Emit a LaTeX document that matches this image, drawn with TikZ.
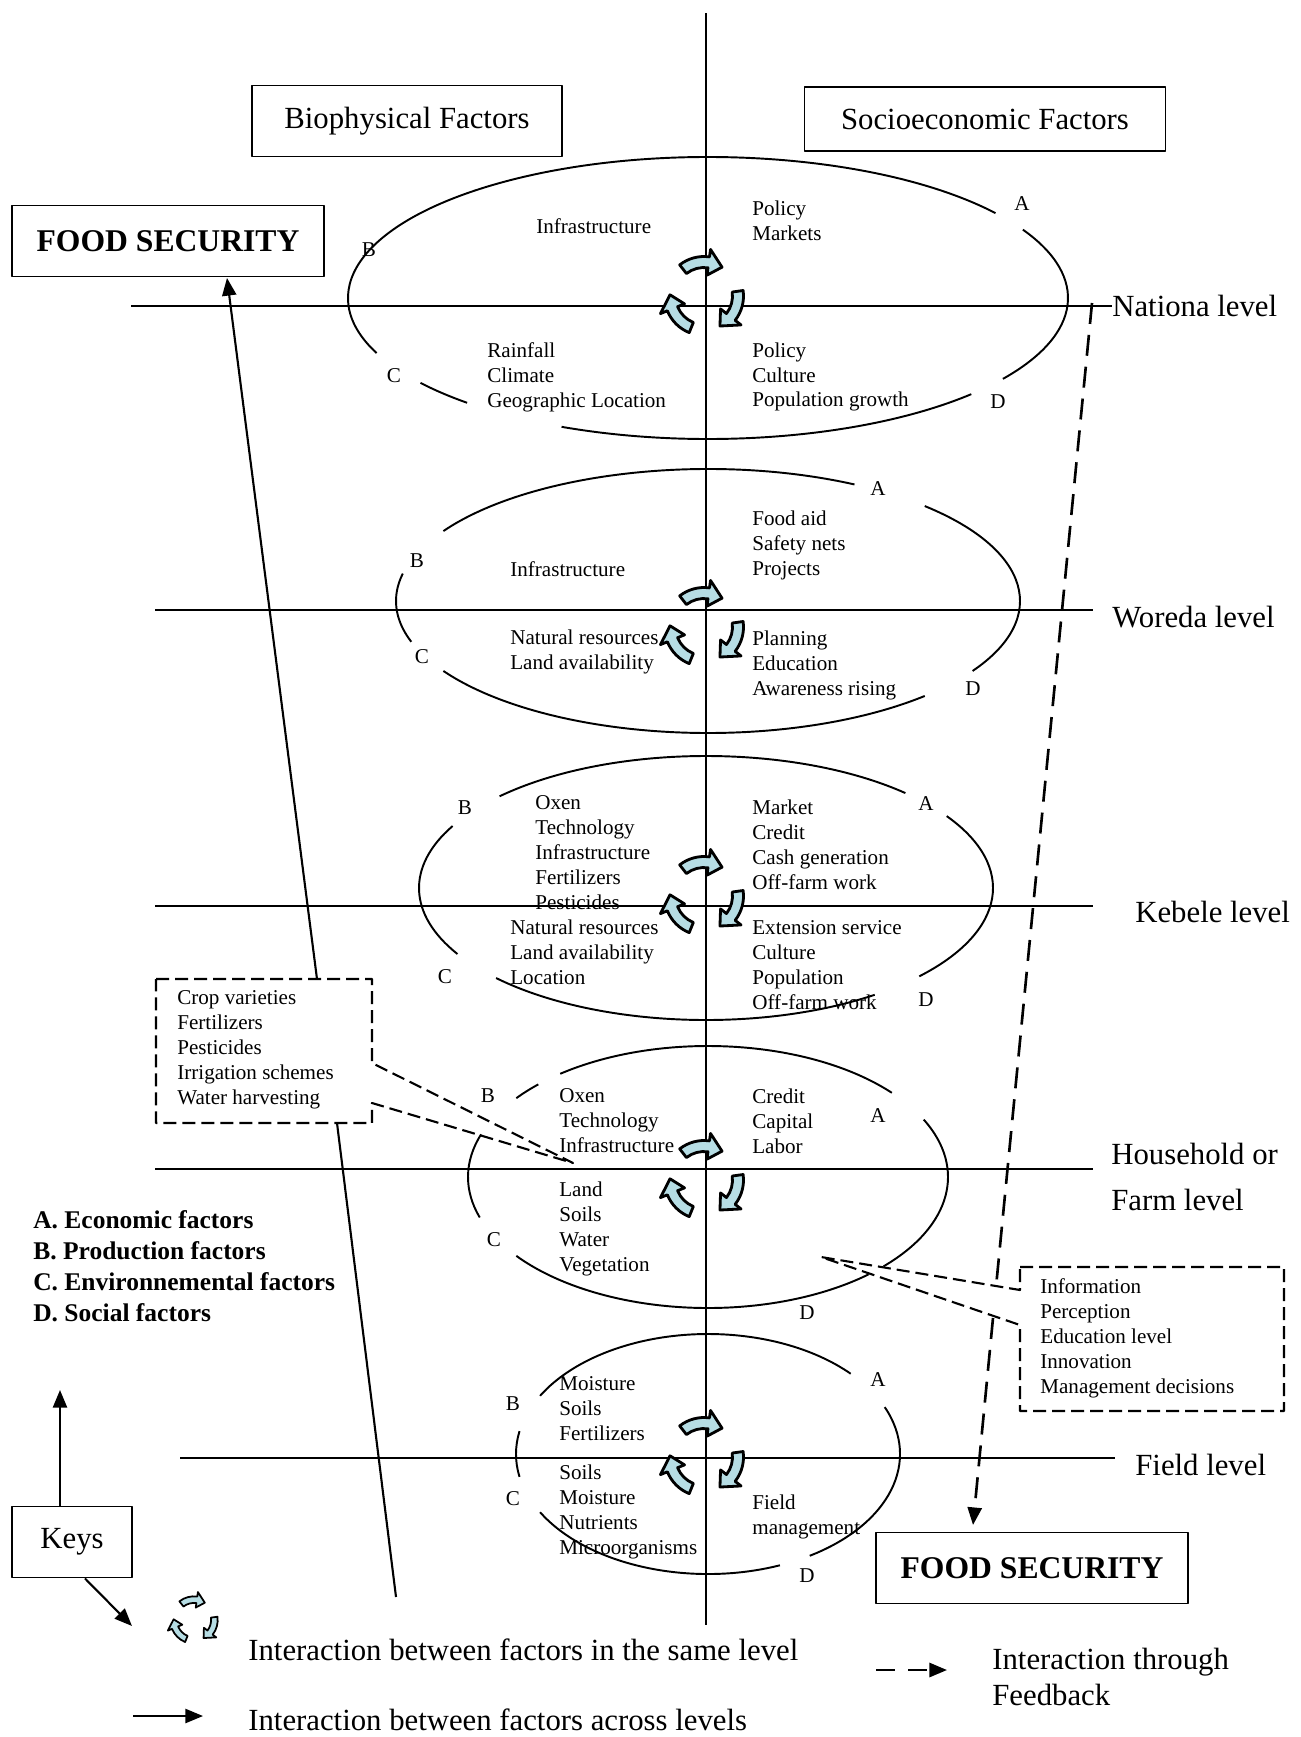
\documentclass[tikz,border=0pt]{standalone}
\usepackage{fontspec}
\setmainfont{Liberation Serif}
\usepackage{xcolor}
\definecolor{paleblue}{RGB}{182,221,228}
\usepackage{tikz}
\usetikzlibrary{arrows.meta,positioning}
\tikzset{
  >={Triangle[length=10pt,width=8pt]},
  ring/.style={line width=1.1pt},
  level/.style={line width=1.4pt},
  axis/.style={line width=1pt},
  frame/.style={draw,line width=1.1pt,inner sep=0pt,font=\fontsize{17.5}{21}\selectfont},
  callout/.style={line width=1.2pt,dash pattern=on 2.6mm off 1.2mm},
  feed/.style={line width=1.5pt,dash pattern=on 4.2mm off 2.2mm},
  link/.style={->,line width=1.2pt},
  item/.style={align=left,anchor=west,inner sep=0pt,font=\fontsize{12}{14.2}\selectfont},
  corner/.style={inner sep=0pt,font=\fontsize{12}{14}\selectfont},
  lvl/.style={anchor=west,inner sep=0pt,font=\fontsize{17.5}{21}\selectfont},
  cycarrow/.style={fill=paleblue,line width=1.6pt},
  cyc/.pic={
    \foreach \r in {0,120,240}
      \filldraw[cycarrow] ({\r-128}:39.5) arc[start angle=\r-128,end angle=\r-82,radius=39.5]
        -- ({\r-82}:47) -- ({\r-58}:34) -- ({\r-82}:21) -- ({\r-82}:28.5)
        arc[start angle=\r-82,end angle=\r-128,radius=28.5] -- cycle;
  }
}

\begin{document}
\begin{tikzpicture}[x=0.2mm,y=-0.2mm,line join=round]
  \useasboundingbox (0,0) rectangle (1300,1737);

  % Header boxes
  \node[frame,minimum width=62mm,minimum height=14.2mm] (bio) at (407,121) {Biophysical Factors};
  \node[frame,minimum width=72.2mm,minimum height=12.8mm] (soc) at (985,119) {Socioeconomic Factors};
  \node[frame,minimum width=62.4mm,minimum height=14.2mm,font=\fontsize{18}{21}\selectfont\bfseries] (fs1) at (168,241) {FOOD SECURITY};
  \node[frame,minimum width=62.4mm,minimum height=14.2mm,font=\fontsize{18}{21}\selectfont\bfseries] (fs2) at (1032,1568) {FOOD SECURITY};

  % Axis and level lines
  \draw[axis] (706,13) -- (706,1625);
  \coordinate (natr) at (1112,306);
  \coordinate (worr) at (1093,610);
  \coordinate (kebr) at (1093,906);
  \coordinate (hour) at (1093,1169);
  \coordinate (fldr) at (1115,1458);
  \draw[level] (131,306) -- (natr);
  \draw[level] (155,610) -- (worr);
  \draw[level] (155,906) -- (kebr);
  \draw[level] (155,1169) -- (hour);
  \draw[level] (180,1458) -- (fldr);
  \node[lvl,right=0pt of natr] (natl) {Nationa level};
  \node[lvl,right=3.8mm of worr,yshift=-1.4mm] (worl) {Woreda level};
  \node[lvl,right=8.4mm of kebr,yshift=-1.2mm] (kebl) {Kebele level};
  \node[lvl,right=3.6mm of hour,yshift=3mm] (houl) {Household or};
  \node[lvl,below=9.2mm of houl.west,anchor=west] (houl2) {Farm level};
  \node[lvl,right=4mm of fldr,yshift=-1.4mm] (fldl) {Field level};

  % Ellipses with gaps at the letters
  \coordinate (natc) at (708,298);
  \coordinate (worc) at (708,601);
  \coordinate (kebc) at (706,888);
  \coordinate (houc) at (708,1177);
  \coordinate (fldc) at (708,1454);
  \foreach \a/\b in {143/132,114/43,35/-29,-37/-203}
    \draw[ring] (natc) ++(\a:360 and 141) arc[start angle=\a,end angle=\b,x radius=360,y radius=141];
  \foreach \a/\b in {-148/-62,-46/32,46/148,162/192}
    \draw[ring] (worc) ++(\a:312 and 132) arc[start angle=\a,end angle=\b,x radius=312,y radius=132];
  \foreach \a/\b in {-136/-46,-33/42,54/137,150/208}
    \draw[ring] (kebc) ++(\a:287 and 132) arc[start angle=\a,end angle=\b,x radius=287,y radius=132];
  \foreach \a/\b in {-128/-40,-26/43,48/143,162/199,-143/-135}
    \draw[ring] (houc) ++(\a:240 and 131) arc[start angle=\a,end angle=\b,x radius=240,y radius=131];
  \foreach \a/\b in {-151/-42,-23/58,68/151,169/191}
    \draw[ring] (fldc) ++(\a:192 and 120) arc[start angle=\a,end angle=\b,x radius=192,y radius=120];

  % Interaction cycles
  \pic at (704,296) {cyc};
  \pic at (704,627) {cyc};
  \pic at (704,896) {cyc};
  \pic at (704,1180) {cyc};
  \pic at (704,1457) {cyc};

  % National level
  \node[item] (n1) at (536,226) {Infrastructure};
  \node[item] (n2) at (752,221) {Policy\\Markets};
  \node[item] (n3) at (487,377) {Rainfall\\Climate\\Geographic Location};
  \node[item] (n4) at (752,377) {Policy\\Culture\\Population growth};
  \node[corner] (na) at (1022,204) {A};
  \node[corner] (nb) at (369,250) {B};
  \node[corner] (nc) at (394,376) {C};
  \node[corner] (nd) at (998,402) {D};

  % Woreda level
  \node[item] (w1) at (510,569) {Infrastructure};
  \node[item] (w2) at (752,545) {Food aid\\Safety nets\\Projects};
  \node[item] (w3) at (510,652) {Natural resources\\Land availability};
  \node[item] (w4) at (752,665) {Planning\\Education\\Awareness rising};
  \node[corner] (wa) at (878,489) {A};
  \node[corner] (wb) at (417,561) {B};
  \node[corner] (wc) at (422,657) {C};
  \node[corner] (wd) at (973,689) {D};

  % Kebele level
  \node[item] (k1) at (535,853) {Oxen\\Technology\\Infrastructure\\Fertilizers\\Pesticides};
  \node[item] (k2) at (752,845) {Market\\Credit\\Cash generation\\Off-farm work};
  \node[item] (k3) at (510,952) {Natural resources\\Land availability\\Location};
  \node[item] (k4) at (752,965) {Extension service\\Culture\\Population\\Off-farm work};
  \node[corner] (ka) at (926,804) {A};
  \node[corner] (kb) at (465,808) {B};
  \node[corner] (kc) at (445,977) {C};
  \node[corner] (kd) at (926,1000) {D};

  % Household level
  \node[item] (h1) at (559,1121) {Oxen\\Technology\\Infrastructure};
  \node[item] (h2) at (752,1121) {Credit\\Capital\\Labor};
  \node[item] (h3) at (559,1229) {Land\\Soils\\Water\\Vegetation};
  \node[corner] (ha) at (878,1116) {A};
  \node[corner] (hb) at (488,1096) {B};
  \node[corner] (hc) at (494,1240) {C};
  \node[corner] (hd) at (807,1313) {D};

  % Field level
  \node[item] (f1) at (559,1409) {Moisture\\Soils\\Fertilizers};
  \node[item] (f2) at (559,1512) {Soils\\Moisture\\Nutrients\\Microorganisms};
  \node[item] (f3) at (752,1517) {Field\\management};
  \node[corner] (fa) at (878,1380) {A};
  \node[corner] (fb) at (513,1404) {B};
  \node[corner] (fc) at (513,1499) {C};
  \node[corner] (fd) at (807,1576) {D};

  % Biophysical inputs callout
  \coordinate (croppt) at (573,1163);
  \draw[callout] (156,979) -- (372,979) -- (372,1063) -- (croppt) -- (372,1103) -- (372,1123) -- (156,1123) -- cycle;
  \node[item] (crop) at (177,1050) {Crop varieties\\Fertilizers\\Pesticides\\Irrigation schemes\\Water harvesting};
  \coordinate (croptop) at (317,979);
  \coordinate (fstip) at (227,278);
  \draw[link] (croptop) -- (fstip);
  \coordinate (cropbot) at (337,1123);
  \coordinate (cropend) at (396,1597);
  \draw[line width=1.2pt] (cropbot) -- (cropend);

  % Socioeconomic inputs callout
  \coordinate (infopt) at (821,1257);
  \draw[callout] (1020,1267) -- (1284,1267) -- (1284,1411) -- (1020,1411) -- (1020,1325) -- (infopt) -- (1020,1290) -- cycle;
  \node[item] (info) at (1040,1338) {Information\\Perception\\Education level\\Innovation\\Management decisions};

  % Feedback
  \coordinate (fbtop) at (1092,303);
  \coordinate (fbmid1) at (996,1287);
  \coordinate (fbmid2) at (993,1318);
  \coordinate (fbtip) at (973,1525);
  \draw[feed] (fbtop) -- (fbmid1);
  \draw[feed,->] (fbmid2) -- (fbtip);

  % Keys
  \node[font=\fontsize{14.5}{17.6}\selectfont\bfseries,align=left,anchor=west,inner sep=0pt] (abcd) at (33,1266)
    {A. Economic factors\\B. Production factors\\C. Environnemental factors\\D. Social factors};
  \node[frame,minimum width=24mm,minimum height=14.2mm] (keys) at (72,1542) {Keys};
  \coordinate (keysup) at (60,1390);
  \coordinate (keystip) at (132,1626);
  \draw[link] (keys.north -| keysup) -- (keysup);
  \draw[link] ([xshift=2.6mm]keys.south) -- (keystip);
  \pic[scale=0.6,cycarrow/.append style={line width=1pt}] at (194,1620) {cyc};
  \node[lvl] (leg1) at (248,1650) {Interaction between factors in the same level};
  \coordinate (leg2a) at (133,1716);
  \coordinate (leg2b) at (203,1716);
  \draw[link] (leg2a) -- (leg2b);
  \node[lvl] (leg2) at (248,1720) {Interaction between factors across levels};
  \coordinate (leg3a) at (876,1670);
  \coordinate (leg3b) at (947,1670);
  \draw[feed,->,dash pattern=on 3.8mm off 2.6mm] (leg3a) -- (leg3b);
  \node[lvl,align=left] (leg3) at (992,1677) {Interaction through\\Feedback};
\end{tikzpicture}
\end{document}
